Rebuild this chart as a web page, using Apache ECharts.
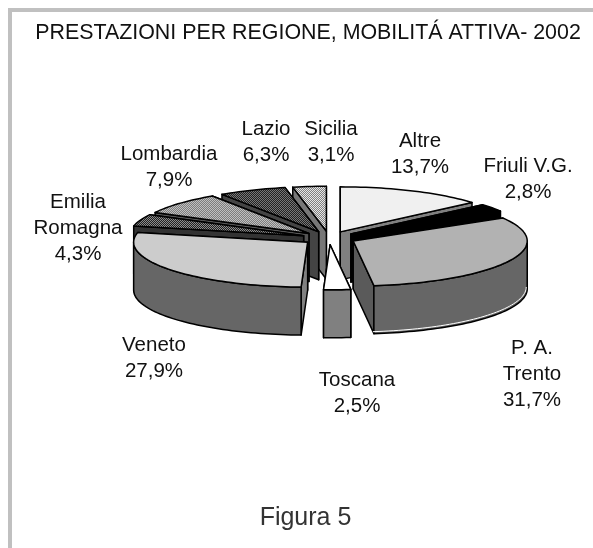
<!DOCTYPE html>
<html><head><meta charset="utf-8">
<style>html,body{margin:0;padding:0;background:#fff}#c{width:593px;height:548px}</style>
<script src="https://cdn.jsdelivr.net/npm/echarts@6/dist/echarts.min.js"></script>
</head><body><div id="c"></div>
<script>
const titleText = 'PRESTAZIONI PER REGIONE, MOBILITÁ ATTIVA- 2002';
const captionText = 'Figura 5';
const categories = ['Altre','Friuli V.G.','P. A.\nTrento','Toscana','Veneto','Emilia\nRomagna','Lombardia','Lazio','Sicilia'];
const values = [13.7,2.8,31.7,2.5,27.9,4.3,7.9,6.3,3.1];

const drawOrder = [8,7,6,5,0,1,4,2,3];
const labelAnchors = [[420,154],[528,179],[532,374],[357,393],[154,358],[78,228],[169,167],[266,142],[331,142]];
const pieCfg = {cx:329, cy:238, a:174, b:45, depth:48, explode:27, squash:0.25};

function checker(c1,c2){
  const k=document.createElement('canvas');k.width=2;k.height=2;
  const g=k.getContext('2d');g.fillStyle=c1;g.fillRect(0,0,2,2);g.fillStyle=c2;g.fillRect(0,0,1,1);g.fillRect(1,1,1,1);
  return {image:k,repeat:'repeat'};
}
const styles = [
  {top:'#f0f0f0',wall:'#808080',side:'#808080'},
  {top:'#000000',wall:'#000000',side:'#000000'},
  {top:'#b2b2b2',wall:'#666666',side:'#5a5a5a',rim:'#ffffff'},
  {top:'#ffffff',wall:'#808080',side:'#808080'},
  {top:'#cccccc',wall:'#666666',side:'#808080'},
  {top:checker('#222222','#8c8c8c'),wall:'#555555',side:'#333333'},
  {top:checker('#7d7d7d','#c0c0c0'),wall:'#666666',side:'#555555'},
  {top:checker('#222222','#777777'),wall:'#444444',side:'#444444'},
  {top:checker('#808080','#e6e6e6'),wall:'#777777',side:'#777777'}
];

const total = values.reduce((s,v)=>s+v,0);
const startAngles=[];values.reduce((s,v,i)=>{startAngles[i]=s;return s+v;},0);

function renderSlice(params, api){
  const p=pieCfg, i=api.value(0), st=styles[i];
  const t0=startAngles[i]/total*2*Math.PI, t1=(startAngles[i]+values[i])/total*2*Math.PI, mid=(t0+t1)/2;
  const ox=p.cx+p.explode*Math.sin(mid), oy=p.cy-p.explode*p.squash*Math.cos(mid);
  const pt=t=>[ox+p.a*Math.sin(t), oy-p.b*Math.cos(t)];
  const dn=q=>[q[0],q[1]+p.depth];
  const arc=(a,b)=>{const n=Math.max(2,Math.ceil((b-a)/0.03)),r=[];for(let k=0;k<=n;k++)r.push(pt(a+(b-a)*k/n));return r;};
  const base={stroke:'#000',lineWidth:1.5,lineJoin:'round'};
  const poly=(points,fill)=>({type:'polygon',shape:{points},style:Object.assign({fill},base)});
  const apex=[ox,oy], P0=pt(t0), P1=pt(t1), kids=[];
  const w0=poly([apex,P0,dn(P0),dn(apex)],st.side), w1=poly([apex,P1,dn(P1),dn(apex)],st.side);
  if(P0[1]<P1[1]) kids.push(w0,w1); else kids.push(w1,w0);
  const fa=Math.max(t0,Math.PI/2), fb=Math.min(t1,Math.PI*1.5);
  if(fb>fa){
    const top=arc(fa,fb);
    kids.push(poly(top.concat(top.slice().reverse().map(dn)),st.wall));
    if(st.rim) kids.push({type:'polyline',shape:{points:top.map(q=>[q[0]-1,q[1]+p.depth-2])},style:{fill:null,stroke:st.rim,lineWidth:1}});
  }
  kids.push(poly([apex].concat(arc(t0,t1)),st.top));
  return {type:'group',children:kids};
}

const pct=v=>v.toFixed(1).replace('.',',')+'%';
const labels=categories.map((c,i)=>({type:'text',silent:true,x:labelAnchors[i][0],y:labelAnchors[i][1],
  style:{text:c+'\n'+pct(values[i]),fill:'#111',font:'20.5px "Liberation Sans"',lineHeight:26,textAlign:'center',textVerticalAlign:'middle'}}));

const chart=echarts.init(document.getElementById('c'),null,{renderer:'canvas'});
chart.setOption({
  animation:false,
  backgroundColor:'#fff',
  graphic:[
    {type:'rect',silent:true,shape:{x:8,y:8,width:585,height:4},style:{fill:'#c0c0c0'}},
    {type:'rect',silent:true,shape:{x:8,y:8,width:4,height:540},style:{fill:'#c0c0c0'}},
    {type:'text',silent:true,x:308,y:33,style:{text:titleText,fill:'#111',font:'21.4px "Liberation Sans"',textAlign:'center',textVerticalAlign:'middle'}},
    {type:'text',silent:true,x:305.5,y:518,style:{text:captionText,fill:'#333',font:'25px "Liberation Sans"',textAlign:'center',textVerticalAlign:'middle'}}
  ].concat(labels),
  series:[{type:'custom',coordinateSystem:'none',silent:true,renderItem:renderSlice,data:drawOrder.map(i=>[i,values[i]])}]
});
</script></body></html>
